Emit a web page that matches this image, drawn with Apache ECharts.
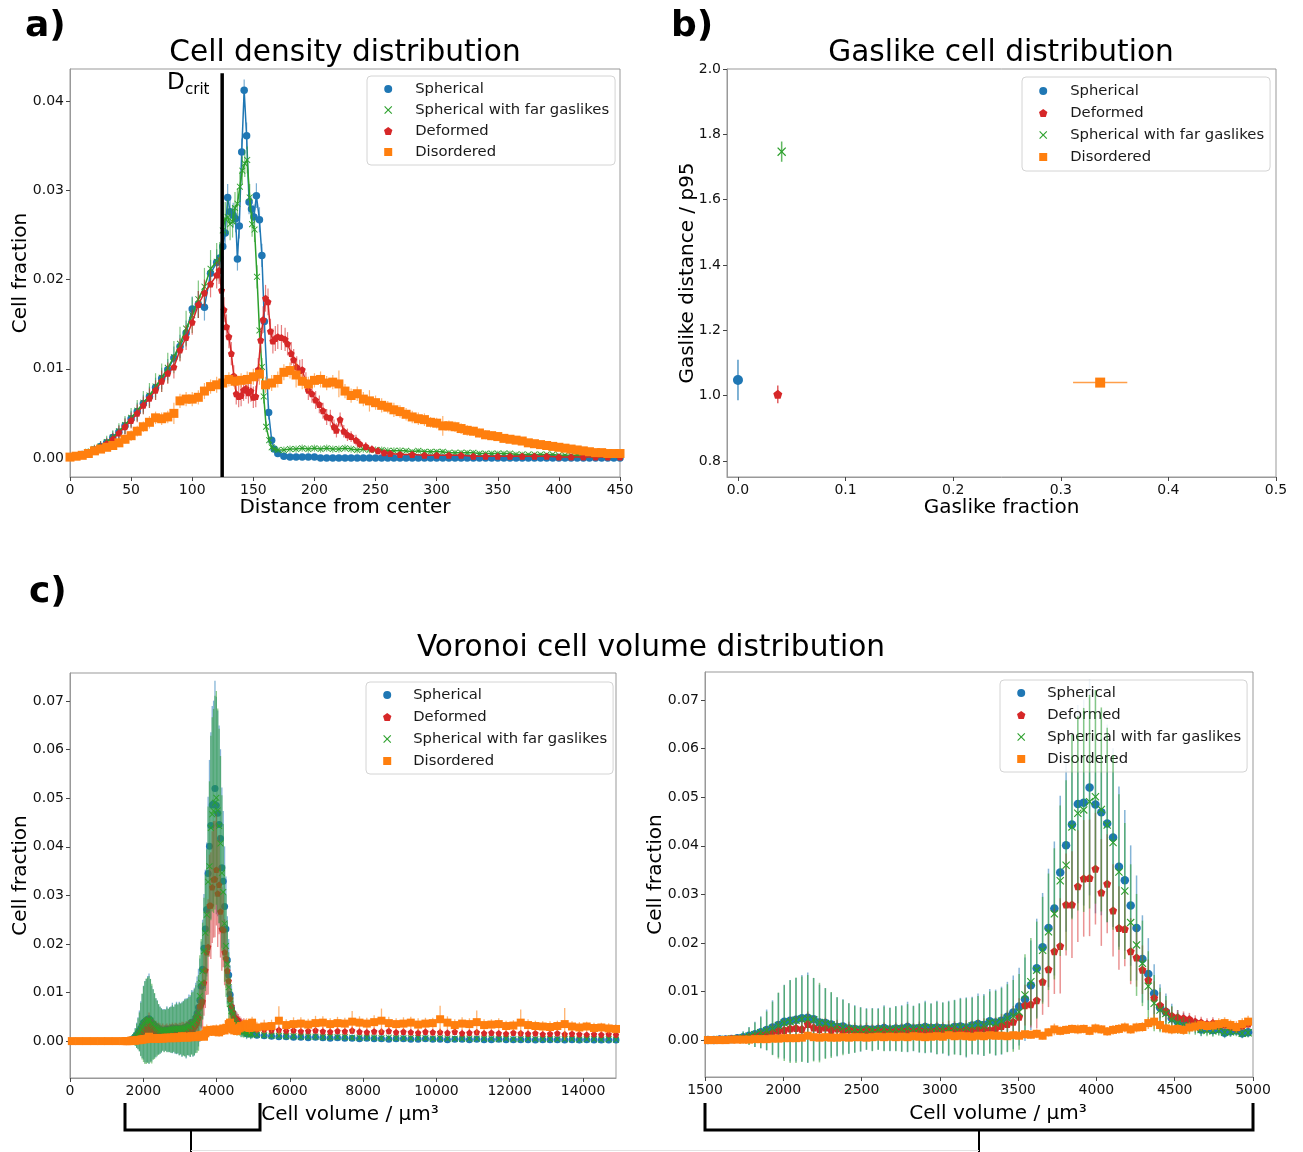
<!DOCTYPE html>
<html><head><meta charset="utf-8">
<script src="https://cdn.jsdelivr.net/npm/echarts@6/dist/echarts.min.js"></script>
<style>html,body{margin:0;padding:0;background:#fff}#c{width:1303px;height:1152px}</style>
</head><body><div id="c"></div>
<script>
// ---------------- Panel a: Cell density distribution ----------------
const aXTicks = [0,50,100,150,200,250,300,350,400,450];
const aYTicks = [0,0.01,0.02,0.03,0.04];
const dCrit = 124.5, dCritTop = 0.0431;
const aRiseX = [0,5,10,15,20,25,30,35,40,45,50,55,60,65,70,75,80,85,90,95,100,105,110,115,120];
const aTailX = [175,180,185,190,195,200,205,210,215,220,225,230,235,240,245,250,255,260,265,270,275,280,285,290,295,300,305,310,315,320,325,330,335,340,345,350,355,360,365,370,375,380,385,390,395,400,405,410,415,420,425,430,435,440,445,450];
// Spherical
const aSphPeakX = [122.5,125,127,129,131,133.5,135.5,137,138.5,140.5,142.5,144.5,146.5,148.5,150.5,152.5,155,157,159,162.5,165,167,170];
const aSphY = [0.0001,0.0002,0.0004,0.0006,0.0009,0.0013,0.0017,0.0023,0.0029,0.0036,0.0044,0.0052,0.0061,0.0069,0.0079,0.0089,0.0099,0.0112,0.0125,0.014,0.0167,0.0172,0.0169,0.0207,0.0219,
  0.0224,0.0237,0.0252,0.0292,0.0276,0.0272,0.0268,0.0223,0.026,0.0343,0.0412,0.0361,0.0287,0.0279,0.027,0.0294,0.0267,0.0227,0.0153,0.0051,0.002,0.001,0.0005,
  0.0002,0.0001,0.0001,0.0001,0.0001,0.0001,0,0,0,0,0,0,0,0,0,0,0,0,0,0,0,0,0,0,0,0,0,0,0,0,0,0,0,0,0,0,0,0,0,0,0,0,0,0,0,0,0,0,0,0,0,0,0,0,0,0];
const aSphE = [0.0001,0.0002,0.0003,0.0004,0.0005,0.0006,0.0006,0.0007,0.0008,0.0009,0.0009,0.001,0.001,0.0011,0.0011,0.0012,0.0012,0.0013,0.0013,0.0014,0.0014,0.0015,0.0015,0.0015,0.0015,
  0.0015,0.0015,0.0014,0.0015,0.0015,0.0014,0.0015,0.0013,0.0014,0.0015,0.0012,0.0015,0.0014,0.0013,0.0014,0.0014,0.0014,0.0013,0.0012,0.0008,0.0004,0.0002,0.0001,
  0.0001,0.0001,0.0001,0.0001,0.0001,0.0001,0.0001,0.0001,0.0001,0.0001,0.0001,0.0001,0.0001,0.0001,0.0001,0.0001,0.0001,0.0001,0.0001,0.0001,0.0001,0.0001,0.0001,0.0001,0.0001,0.0001,0.0001,0.0001,0.0001,0.0001,0.0001,0.0001,0.0001,0.0001,0.0001,0.0001,0.0001,0.0001,0.0001,0.0001,0.0001,0.0001,0.0001,0.0001,0.0001,0.0001,0.0001,0.0001,0.0001,0.0001,0.0001,0.0001,0.0001,0.0001,0.0001,0.0001];
// Spherical with far gaslikes
const aFarPeakX = [122.5,125,127,129,131,133,135,137,139,141,143,145,147,149,151,153,155,157,158.5,160.5,163,165,167,170];
const aFarY = [0.0001,0.0002,0.0004,0.0007,0.001,0.0013,0.0018,0.0023,0.003,0.0037,0.0045,0.0053,0.0062,0.007,0.008,0.009,0.0101,0.0113,0.0128,0.0145,0.016,0.0178,0.0192,0.0212,0.022,
  0.0222,0.0255,0.0268,0.027,0.0262,0.0265,0.028,0.0285,0.0304,0.0322,0.033,0.0334,0.0292,0.0262,0.0256,0.0203,0.0143,0.0102,0.0069,0.0035,0.002,0.0012,0.001,0.0009,
  0.0009,0.001,0.001,0.0011,0.001,0.0011,0.001,0.0011,0.001,0.001,
  0.0011,0.001,0.0009,0.001,0.0009,0.0009,0.0009,0.0008,0.0008,0.0008,
  0.0008,0.0007,0.0008,0.0007,0.0007,0.0007,0.0007,0.0006,0.0006,0.0006,
  0.0006,0.0006,0.0005,0.0005,0.0005,0.0005,0.0005,0.0005,0.0004,0.0004,
  0.0004,0.0004,0.0004,0.0004,0.0004,0.0003,0.0003,0.0003,0.0003,0.0003,
  0.0003,0.0003,0.0003,0.0003,0.0003,0.0003];
const aFarE = [0.0001,0.0002,0.0003,0.0004,0.0005,0.0006,0.0007,0.0008,0.0009,0.001,0.0011,0.0012,0.0013,0.0014,0.0015,0.0016,0.0017,0.0018,0.0019,0.002,0.002,0.0021,0.0021,0.0021,0.0021,
  0.002,0.002,0.0019,0.0019,0.0018,0.0018,0.0018,0.0017,0.0017,0.0016,0.0015,0.0015,0.0015,0.0014,0.0014,0.0013,0.0012,0.001,0.0008,0.0006,0.0004,0.0003,0.0003,0.0003,
  0.0004,0.0004,0.0004,0.0004,0.0004,0.0004,0.0004,0.0004,0.0004,0.0004,0.0004,0.0004,0.0004,0.0004,0.0004,0.0004,0.0004,0.0004,0.0004,0.0004,
  0.0003,0.0003,0.0003,0.0003,0.0003,0.0003,0.0003,0.0003,0.0003,0.0003,0.0003,0.0003,0.0003,0.0003,0.0003,0.0003,0.0003,0.0003,0.0003,0.0003,
  0.0002,0.0002,0.0002,0.0002,0.0002,0.0002,0.0002,0.0002,0.0002,0.0002,0.0002,0.0002,0.0002,0.0002,0.0002,0.0002];
// Deformed
const aDefPeakX = [122,124,126,128,130,132,134,136,138,140,142,144,146,148,150,152,154,156,158,160,162,164,166,168,170,
  173,176,178,181,183,185.5,188,190,193,195,198,201,204,207,210,213,216,218,221,224,227,230,234,237,242,247,252,257,262];
const aDefTailX = [270,280,290,300,310,320,330,340,350,360,370,380,390,400,410,420,430,440,450];
const aDefY = [0.0001,0.0002,0.0004,0.0006,0.0009,0.0012,0.0016,0.0021,0.0028,0.0035,0.0042,0.005,0.0059,0.0067,0.0076,0.0086,0.0095,0.0102,0.0121,0.0135,0.0152,0.0172,0.0185,0.0195,0.0205,
  0.021,0.0188,0.0166,0.0147,0.0136,0.0117,0.0092,0.0072,0.0069,0.007,0.0076,0.0078,0.0073,0.0075,0.0068,0.0069,0.0099,0.0132,0.0155,0.0179,0.0175,0.0142,0.0131,0.0134,0.0136,
  0.0135,0.0133,0.0128,0.0117,0.011,0.0102,0.0098,0.0099,0.0085,0.0076,0.0072,0.0065,0.006,0.0053,0.0046,0.0045,0.0035,0.0031,0.0043,0.003,0.0026,0.0024,0.002,0.0016,0.0013,0.001,0.0008,0.0006,0.0005,
  0.0004,0.0004,0.0003,0.0003,0.0003,0.0003,0.0002,0.0002,0.0002,0.0002,0.0002,0.0002,0.0002,0.0001,0.0001,0.0001,0.0001,0.0001,0.0001];
const aDefE = [0.0001,0.0002,0.0003,0.0004,0.0005,0.0006,0.0006,0.0007,0.0008,0.0009,0.0009,0.001,0.001,0.0011,0.0011,0.0012,0.0012,0.0013,0.0013,0.0014,0.0014,0.0015,0.0015,0.0015,0.0015,
  0.0015,0.0015,0.0014,0.0014,0.0013,0.0013,0.0012,0.0012,0.0012,0.0012,0.0012,0.0012,0.0012,0.0012,0.0012,0.0012,0.0013,0.0014,0.0015,0.0015,0.0015,0.0014,0.0014,0.0014,0.0014,
  0.0014,0.0013,0.0013,0.0013,0.0012,0.0012,0.0012,0.0012,0.0011,0.0011,0.001,0.001,0.001,0.0009,0.0009,0.0009,0.0008,0.0008,0.0008,0.0007,0.0007,0.0006,0.0006,0.0005,0.0005,0.0004,0.0004,0.0003,0.0003,
  0.0002,0.0002,0.0002,0.0002,0.0002,0.0002,0.0002,0.0001,0.0001,0.0001,0.0001,0.0001,0.0001,0.0001,0.0001,0.0001,0.0001,0.0001,0.0001];
// Disordered
const aDisX = [0,5,10,15,20,25,30,35,40,45,50,55,60,65,70,75,80,85,90,95,100,105,110,115,120,125,130,135,140,145,150,155,160,165,170,175,180,185,190,195,200,205,210,215,220,225,230,235,240,245,250,255,260,265,270,275,280,285,290,295,300,305,310,315,320,325,330,335,340,345,350,355,360,365,370,375,380,385,390,395,400,405,410,415,420,425,430,435,440,445,450];
const aDisY = [0.0001,0.0002,0.0003,0.0005,0.0008,0.001,0.0012,0.0014,0.0017,0.0021,
  0.0025,0.003,0.0035,0.004,0.0045,0.0044,0.0046,0.005,0.0064,0.0066,
  0.0066,0.0068,0.0075,0.008,0.0082,0.0084,0.0088,0.0086,0.0087,0.0088,
  0.0091,0.0094,0.0082,0.0084,0.0088,0.0096,0.0098,0.0093,0.0086,0.0083,
  0.0087,0.0088,0.0084,0.0085,0.0083,0.0075,0.007,0.0072,0.0066,0.0064,
  0.0062,0.0059,0.0057,0.0054,0.0052,0.0049,0.0046,0.0044,0.0043,0.004,
  0.0039,0.0036,0.0036,0.0035,0.0033,0.0031,0.003,0.0028,0.0026,0.0025,
  0.0024,0.0022,0.0021,0.002,0.0019,0.0017,0.0016,0.0015,0.0014,0.0013,
  0.0012,0.0011,0.001,0.0009,0.0008,0.0007,0.0006,0.0006,0.0005,0.0005,0.0005];
const aDisE = [0.0001,0.0002,0.0002,0.0003,0.0003,0.0004,0.0004,0.0005,0.0005,0.0005,
  0.0006,0.0006,0.0006,0.0007,0.0007,0.0007,0.0007,0.0012,0.0008,0.0008,
  0.0008,0.0008,0.0009,0.0008,0.0009,0.0009,0.0008,0.0009,0.0008,0.0009,
  0.0009,0.0012,0.0009,0.0009,0.0009,0.0009,0.0009,0.0014,0.0009,0.0008,
  0.0008,0.0009,0.0008,0.0008,0.0015,0.0008,0.0008,0.0008,0.0008,0.0012,
  0.0008,0.0008,0.0007,0.0008,0.0007,0.0007,0.0007,0.0007,0.0007,0.0006,
  0.0006,0.0011,0.0006,0.0006,0.0006,0.0006,0.0005,0.0005,0.0005,0.0005,
  0.0005,0.0005,0.0004,0.0004,0.0004,0.0004,0.0004,0.0004,0.0003,0.0003,
  0.0003,0.0003,0.0003,0.0003,0.0003,0.0002,0.0002,0.0002,0.0002,0.0002,0.0002];

// ---------------- Panel b: Gaslike cell distribution ----------------
const bXTicks = [0,0.1,0.2,0.3,0.4,0.5];
const bYTicks = [0.8,1.0,1.2,1.4,1.6,1.8,2.0];
const bNames = ['Spherical','Deformed','Spherical with far gaslikes','Disordered'];
const bFrac = [0.0, 0.037, 0.0406, 0.3366];
const bFracErr = [0, 0, 0, 0.0252];
const bDist = [1.048, 1.004, 1.747, 1.040];
const bDistErr = [0.062, 0.027, 0.031, 0.01];

// ---------------- Panel c: Voronoi cell volume distribution ----------------
const cLXTicks = [0,2000,4000,6000,8000,10000,12000,14000];
const cRXTicks = [1500,2000,2500,3000,3500,4000,4500,5000];
const cYTicks = [0,0.01,0.02,0.03,0.04,0.05,0.06,0.07];
const cBinStart = 1518.75, cBinWidth = 37.5;     // bins of the 1500-5000 window
const cTailStart = 5100, cTailStep = 200;        // coarser sampling above 5000
const cHeadStart = 50, cHeadStep = 200;          // below 1500 (Disordered only visible)
const cSphY = [0,0,0.0001,0.0001,0.0002,0.0004,0.0006,0.0009,0.0012,0.0016,
  0.0021,0.0026,0.0031,0.0038,0.004,0.0042,0.0045,0.0046,0.0043,0.0036,
  0.0035,0.0032,0.0027,0.0028,0.0024,0.0023,0.0022,0.0023,0.0022,0.0023,
  0.0025,0.0022,0.0024,0.0024,0.0027,0.0024,0.0025,0.0027,0.0025,0.0026,
  0.0025,0.0024,0.0027,0.0028,0.0026,0.003,0.0033,0.0031,0.0039,0.0036,
  0.004,0.0048,0.0057,0.0069,0.0084,0.0113,0.0148,0.0191,0.0231,0.0271,
  0.0345,0.0401,0.0444,0.0486,0.0489,0.052,0.0485,0.0469,0.0446,0.0417,
  0.0357,0.0329,0.0277,0.0231,0.0167,0.0136,0.0096,0.0067,0.0058,0.0045,
  0.0038,0.0036,0.0034,0.003,0.0022,0.0024,0.0021,0.0023,0.0015,0.0018,
  0.002,0.0014,0.0016];
const cSphE = [0.0001,0.0001,0.0002,0.0003,0.0005,0.0008,0.0012,0.0018,0.0026,0.0033,
  0.0042,0.0056,0.0066,0.0076,0.0084,0.0086,0.0089,0.0093,0.0085,0.0078,
  0.0072,0.0066,0.0061,0.0056,0.0052,0.0049,0.0046,0.0043,0.0044,0.0043,
  0.0047,0.0045,0.0046,0.0048,0.0052,0.0047,0.0051,0.0054,0.0051,0.0055,
  0.0053,0.0057,0.0056,0.0059,0.0062,0.0059,0.0063,0.0064,0.0066,0.0068,
  0.007,0.0072,0.0076,0.008,0.0086,0.0092,0.0102,0.0112,0.0122,0.0138,
  0.0158,0.0178,0.0192,0.0204,0.0212,0.0222,0.0224,0.0212,0.0204,0.0184,
  0.0165,0.0145,0.0124,0.0108,0.009,0.0074,0.006,0.0048,0.0038,0.003,
  0.0024,0.002,0.0017,0.0016,0.0014,0.0013,0.0012,0.0012,0.0011,0.0011,
  0.001,0.001,0.001];
const cDefY = [0,0,0.0001,0.0001,0.0002,0.0003,0.0004,0.0006,0.0008,0.0011,
  0.0013,0.0016,0.0019,0.0021,0.0024,0.0025,0.0023,0.0033,0.0026,0.0023,
  0.0026,0.0021,0.0024,0.0019,0.0022,0.002,0.0018,0.0021,0.0018,0.0019,
  0.002,0.0018,0.002,0.0019,0.0021,0.0019,0.0021,0.002,0.0019,0.0021,
  0.002,0.0022,0.0021,0.0019,0.0022,0.0021,0.0023,0.0024,0.0021,0.0024,
  0.0029,0.0033,0.0038,0.0048,0.0072,0.0074,0.0082,0.012,0.0146,0.0183,
  0.0194,0.0279,0.0279,0.0317,0.0333,0.0334,0.0353,0.0304,0.0322,0.0267,
  0.0231,0.0229,0.0183,0.017,0.0145,0.0124,0.0087,0.0072,0.006,0.005,
  0.0047,0.0045,0.0043,0.0038,0.0036,0.0033,0.0035,0.003,0.0032,0.0028,
  0.0026,0.003,0.0034];
const cDefE = [0.0001,0.0001,0.0001,0.0002,0.0003,0.0004,0.0006,0.0008,0.001,0.0012,
  0.0015,0.0018,0.002,0.0022,0.0024,0.0025,0.0026,0.0026,0.0024,0.0022,
  0.002,0.0019,0.0018,0.0017,0.0016,0.0016,0.0015,0.0015,0.0015,0.0015,
  0.0016,0.0015,0.0016,0.0016,0.0017,0.0016,0.0017,0.0017,0.0016,0.0017,
  0.0017,0.0018,0.0018,0.0018,0.0019,0.0019,0.002,0.0021,0.0021,0.0023,
  0.0025,0.0028,0.0032,0.0038,0.0042,0.0048,0.0058,0.0068,0.0078,0.0088,
  0.0098,0.0105,0.011,0.0115,0.012,0.012,0.0115,0.011,0.0102,0.0095,
  0.0086,0.0077,0.0068,0.006,0.005,0.0042,0.0034,0.0027,0.0022,0.0018,
  0.0015,0.0014,0.0013,0.0013,0.0012,0.0012,0.0012,0.0011,0.0011,0.0011,
  0.001,0.001,0.001];
const cFarY = [0,0,0.0001,0.0001,0.0002,0.0003,0.0005,0.0008,0.0011,0.0015,
  0.0019,0.0024,0.003,0.0035,0.0038,0.0041,0.0043,0.0044,0.0042,0.0036,
  0.0034,0.0031,0.0028,0.0026,0.0024,0.0022,0.0022,0.0022,0.0021,0.0022,
  0.0023,0.0022,0.0023,0.0023,0.0025,0.0024,0.0025,0.0026,0.0025,0.0025,
  0.0025,0.0024,0.0026,0.0027,0.0026,0.0029,0.0031,0.003,0.0036,0.0035,
  0.0039,0.0045,0.005,0.0058,0.0093,0.012,0.0144,0.0185,0.0223,0.026,
  0.0328,0.036,0.0439,0.0467,0.0474,0.0491,0.0501,0.0475,0.0443,0.0407,
  0.0346,0.0307,0.0242,0.0196,0.0158,0.0111,0.0076,0.0062,0.0055,0.0042,
  0.0035,0.003,0.0028,0.0026,0.0022,0.002,0.0019,0.002,0.0016,0.0017,
  0.0018,0.0014,0.0015];
const cFarE = [0.0001,0.0001,0.0002,0.0003,0.0005,0.0008,0.0012,0.0018,0.0025,0.0032,
  0.004,0.0055,0.0068,0.0078,0.0085,0.0088,0.0088,0.009,0.0086,0.0082,
  0.0073,0.0068,0.006,0.0057,0.0052,0.0048,0.0045,0.0042,0.0044,0.0042,
  0.0046,0.0044,0.0046,0.0047,0.0049,0.0046,0.005,0.0052,0.005,0.0054,
  0.0052,0.0055,0.0056,0.0058,0.006,0.0058,0.006,0.0062,0.0064,0.0066,
  0.0068,0.007,0.0074,0.0078,0.0084,0.009,0.01,0.011,0.012,0.0135,
  0.0155,0.0175,0.019,0.02,0.021,0.022,0.022,0.021,0.02,0.018,
  0.016,0.014,0.012,0.0105,0.0088,0.0072,0.0058,0.0046,0.0036,0.0028,
  0.0022,0.0018,0.0016,0.0015,0.0013,0.0012,0.0012,0.0011,0.001,0.001,
  0.001,0.0009,0.0009];
const cDisY = [0,0,0,0,0.0001,0.0001,0.0001,0.0001,0.0002,0.0002,
  0.0002,0.0003,0.0003,0.0004,0.0004,0.0004,0.0005,0.0009,0.0006,0.0005,
  0.0006,0.0005,0.0005,0.0006,0.0005,0.0006,0.0006,0.0005,0.0006,0.0007,
  0.0006,0.0007,0.0006,0.0007,0.0006,0.0008,0.0007,0.0006,0.0007,0.0008,
  0.0007,0.001,0.0008,0.0009,0.0008,0.0007,0.0009,0.0008,0.001,0.0009,
  0.0009,0.0008,0.001,0.0009,0.0012,0.0011,0.0013,0.0009,0.0016,0.0022,
  0.0019,0.0021,0.0023,0.0022,0.0023,0.0019,0.0024,0.0022,0.0018,0.0021,
  0.0023,0.0026,0.0022,0.0026,0.0027,0.0035,0.0038,0.0031,0.0024,0.0022,
  0.0023,0.0021,0.0026,0.0028,0.0031,0.0029,0.003,0.0033,0.0035,0.0031,
  0.0027,0.0033,0.0038];
const cDisE = [0.0001,0.0001,0.0001,0.0001,0.0001,0.0001,0.0001,0.0002,0.0002,0.0002,
  0.0002,0.0002,0.0003,0.0003,0.0003,0.0003,0.0004,0.0006,0.0004,0.0004,
  0.0004,0.0004,0.0004,0.0005,0.0004,0.0004,0.0005,0.0004,0.0005,0.0005,
  0.0005,0.0005,0.0005,0.0005,0.0005,0.0006,0.0005,0.0005,0.0006,0.0006,
  0.0006,0.0007,0.0006,0.0006,0.0006,0.0006,0.0007,0.0006,0.0007,0.0007,
  0.0007,0.0007,0.0007,0.0008,0.0008,0.0008,0.0009,0.0008,0.0009,0.0012,
  0.0009,0.0009,0.0009,0.001,0.0009,0.0009,0.001,0.0009,0.0009,0.001,
  0.001,0.001,0.0009,0.001,0.001,0.0012,0.0015,0.0011,0.001,0.001,
  0.001,0.001,0.0011,0.0011,0.0011,0.0011,0.0012,0.0012,0.0012,0.0011,
  0.0012,0.0012,0.0012];
// tail (5000-15000)
const tSphY = [0.0012,0.0011,0.001,0.0009,0.0009,0.0008,0.0008,0.0007,0.0008,0.0007,
  0.0006,0.0007,0.0006,0.0006,0.0005,0.0006,0.0005,0.0005,0.0004,0.0005,
  0.0005,0.0004,0.0004,0.0005,0.0004,0.0004,0.0003,0.0004,0.0004,0.0003,
  0.0004,0.0003,0.0003,0.0004,0.0003,0.0003,0.0003,0.0003,0.0002,0.0003,
  0.0003,0.0003,0.0002,0.0003,0.0002,0.0003,0.0002,0.0002,0.0002,0.0002];
const tSphE = [0.0006,0.0006,0.0006,0.0006,0.0006,0.0006,0.0006,0.0006,0.0006,0.0006,
  0.0005,0.0005,0.0005,0.0005,0.0005,0.0005,0.0005,0.0005,0.0005,0.0005,
  0.0004,0.0004,0.0004,0.0004,0.0004,0.0004,0.0004,0.0004,0.0004,0.0004,
  0.0004,0.0004,0.0004,0.0004,0.0004,0.0003,0.0003,0.0003,0.0003,0.0003,
  0.0003,0.0003,0.0003,0.0003,0.0003,0.0003,0.0003,0.0003,0.0003,0.0003];
const tDefY = [0.0025,0.0024,0.0022,0.0023,0.0021,0.0022,0.002,0.0021,0.0022,0.002,
  0.0019,0.0021,0.002,0.0022,0.0019,0.0018,0.002,0.0019,0.0021,0.0018,
  0.0019,0.0018,0.0017,0.0019,0.0018,0.0018,0.0017,0.0019,0.0016,0.0017,
  0.0018,0.0016,0.0017,0.0016,0.0015,0.0017,0.0016,0.0015,0.0016,0.0014,
  0.0015,0.0016,0.0014,0.0015,0.0014,0.0013,0.0014,0.0013,0.0014,0.0013];
const tDefE = [0.0009,0.0009,0.0009,0.0009,0.0009,0.0009,0.0009,0.0009,0.0009,0.0009,
  0.0008,0.0008,0.0008,0.0008,0.0008,0.0008,0.0008,0.0008,0.0008,0.0008,
  0.0008,0.0008,0.0008,0.0008,0.0008,0.0008,0.0008,0.0008,0.0008,0.0008,
  0.0007,0.0007,0.0007,0.0007,0.0007,0.0007,0.0007,0.0007,0.0007,0.0007,
  0.0007,0.0007,0.0007,0.0007,0.0007,0.0007,0.0007,0.0007,0.0007,0.0007];
const tFarY = [0.0013,0.0012,0.0011,0.0011,0.001,0.001,0.0009,0.0009,0.0009,0.0008,
  0.0008,0.0008,0.0008,0.0007,0.0007,0.0007,0.0007,0.0006,0.0007,0.0006,
  0.0006,0.0006,0.0006,0.0006,0.0005,0.0006,0.0005,0.0005,0.0005,0.0005,
  0.0005,0.0005,0.0005,0.0004,0.0005,0.0004,0.0004,0.0005,0.0004,0.0004,
  0.0004,0.0004,0.0004,0.0004,0.0003,0.0004,0.0004,0.0003,0.0004,0.0003];
const tFarE = [0.0007,0.0007,0.0007,0.0007,0.0007,0.0007,0.0007,0.0007,0.0007,0.0007,
  0.0006,0.0006,0.0006,0.0006,0.0006,0.0006,0.0006,0.0006,0.0006,0.0006,
  0.0005,0.0005,0.0005,0.0005,0.0005,0.0005,0.0005,0.0005,0.0005,0.0005,
  0.0005,0.0005,0.0005,0.0005,0.0005,0.0004,0.0004,0.0004,0.0004,0.0004,
  0.0004,0.0004,0.0004,0.0004,0.0004,0.0004,0.0004,0.0004,0.0004,0.0004];
const tDisY = [0.0028,0.003,0.0031,0.0042,0.0033,0.0035,0.0036,0.0034,0.0037,0.0038,
  0.0035,0.0037,0.0036,0.004,0.0038,0.0036,0.0039,0.0042,0.0037,0.0035,
  0.0036,0.0038,0.0034,0.0036,0.0037,0.0045,0.0038,0.0033,0.0036,0.0035,
  0.0039,0.0033,0.0034,0.0035,0.0031,0.0032,0.0038,0.0033,0.0031,0.003,
  0.0029,0.0031,0.0035,0.003,0.0028,0.003,0.0027,0.0028,0.0026,0.0025];
const tDisE = [0.0012,0.0014,0.0013,0.003,0.0012,0.0014,0.0013,0.0012,0.0015,0.0013,
  0.0012,0.0013,0.0012,0.0022,0.0013,0.0012,0.0014,0.0025,0.0013,0.0012,
  0.0013,0.0012,0.0013,0.0012,0.0011,0.0028,0.0013,0.0012,0.0013,0.0012,
  0.0024,0.0012,0.0011,0.0012,0.0011,0.0011,0.0027,0.0012,0.0011,0.0011,
  0.0012,0.0011,0.0033,0.0011,0.0011,0.001,0.0011,0.001,0.0011,0.001];
const hDisY = [0,0,0,0,0,0,0,0];
const hDisE = [0.0001,0.0001,0.0001,0.0001,0.0001,0.0001,0.0001,0.0001];

// ---------------- build ----------------
const C_BLUE='#1f77b4', C_ORANGE='#ff7f0e', C_GREEN='#2ca02c', C_RED='#d62728';
const SYM_X='path://M0,0.1L0.1,0L0.5,0.4L0.9,0L1,0.1L0.6,0.5L1,0.9L0.9,1L0.5,0.6L0.1,1L0,0.9L0.4,0.5Z';
const SYM_PENT='path://M0.5,0L1,0.363L0.809,0.951L0.191,0.951L0,0.363Z';
const SYM_SQ='path://M0,0L1,0L1,1L0,1Z';
const FONT='DejaVu Sans';

const aSphX = aRiseX.concat(aSphPeakX, aTailX);
const aFarX = aRiseX.concat(aFarPeakX, aTailX);
const aDefX = aRiseX.concat(aDefPeakX, aDefTailX);
const cCoreX = cSphY.map((_, i) => cBinStart + cBinWidth * i);
const cTailX = tSphY.map((_, i) => cTailStart + cTailStep * i);
const cHeadX = hDisY.map((_, i) => cHeadStart + cHeadStep * i);

const series = [];
function addErr(gi, xs, ys, es, color, width, opacity, z, xes) {
  const data = xs.map((x, i) => xes ? [x, ys[i], es[i], xes[i]] : [x, ys[i], es[i]]);
  series.push({
    type: 'custom', name: 'errbar', xAxisIndex: gi, yAxisIndex: gi, z, silent: true, clip: true,
    animation: false, data, encode: { x: 0, y: 1 },
    renderItem: (p, api) => {
      const x = api.value(0), y = api.value(1), e = api.value(2);
      const ch = [];
      if (isFinite(e) && e > 0) {
        const a = api.coord([x, y - e]), b = api.coord([x, y + e]);
        ch.push({ type: 'line', shape: { x1: a[0], y1: a[1], x2: b[0], y2: b[1] }, style: { stroke: color, lineWidth: width, opacity } });
      }
      if (xes) {
        const xe = api.value(3);
        if (isFinite(xe) && xe > 0) {
          const a = api.coord([x - xe, y]), b = api.coord([x + xe, y]);
          ch.push({ type: 'line', shape: { x1: a[0], y1: a[1], x2: b[0], y2: b[1] }, style: { stroke: color, lineWidth: width, opacity } });
        }
      }
      return { type: 'group', children: ch };
    }
  });
}
function addPts(gi, name, xs, ys, symbol, size, color, z, line) {
  const s = {
    type: line ? 'line' : 'scatter', name, xAxisIndex: gi, yAxisIndex: gi, z, silent: true, animation: false,
    data: xs.map((x, i) => [x, ys[i]]), symbol, symbolSize: size,
    itemStyle: { color, opacity: 1, borderWidth: 0 }, emphasis: { disabled: true }
  };
  if (line) Object.assign(s, { showSymbol: true, showAllSymbol: true, lineStyle: { color, width: 1.5 } });
  series.push(s);
}

// Panel a (grid 0)
addErr(0, aSphX, aSphY, aSphE, C_BLUE, 1.2, 0.6, 2);
addPts(0, 'Spherical', aSphX, aSphY, 'circle', 7.5, C_BLUE, 3, true);
addErr(0, aFarX, aFarY, aFarE, C_GREEN, 1.2, 0.6, 4);
addPts(0, 'Spherical with far gaslikes', aFarX, aFarY, SYM_X, 6.5, C_GREEN, 5, true);
addErr(0, aDefX, aDefY, aDefE, C_RED, 1.2, 0.6, 6);
addPts(0, 'Deformed', aDefX, aDefY, SYM_PENT, 7, C_RED, 7, true);
addErr(0, aDisX, aDisY, aDisE, C_ORANGE, 1.2, 0.6, 8);
addPts(0, 'Disordered', aDisX, aDisY, 'rect', 9, C_ORANGE, 9, false);
series.push({ type: 'line', name: 'Dcrit', xAxisIndex: 0, yAxisIndex: 0, z: 12, silent: true, animation: false,
  data: [[dCrit, -0.00213], [dCrit, dCritTop]], symbol: 'none', lineStyle: { color: '#000', width: 3.5 } });

// Panel b (grid 1)
const bSym = ['circle', SYM_PENT, SYM_X, 'rect'];
const bCol = [C_BLUE, C_RED, C_GREEN, C_ORANGE];
const bSize = [10, 9, 9, 10];
bNames.forEach((n, i) => {
  addErr(1, [bFrac[i]], [bDist[i]], [bDistErr[i]], bCol[i], 1.5, 0.75, 2 + 2 * i, [bFracErr[i]]);
  addPts(1, n, [bFrac[i]], [bDist[i]], bSym[i], bSize[i], bCol[i], 3 + 2 * i, false);
});

// Panel c left (grid 2) and right (grid 3)
const cLSphX = cCoreX.concat(cTailX), cLSphY = cSphY.concat(tSphY), cLSphE = cSphE.concat(tSphE);
const cLDefY = cDefY.concat(tDefY), cLDefE = cDefE.concat(tDefE);
const cLFarY = cFarY.concat(tFarY), cLFarE = cFarE.concat(tFarE);
const cLDisX = cHeadX.concat(cCoreX, cTailX), cLDisY = hDisY.concat(cDisY, tDisY), cLDisE = hDisE.concat(cDisE, tDisE);

addErr(2, cLSphX, cLSphY, cLSphE, C_BLUE, 1.3, 0.55, 2);
addPts(2, 'Spherical', cLSphX, cLSphY, 'circle', 7, C_BLUE, 3, false);
addErr(2, cLSphX, cLDefY, cLDefE, C_RED, 1.3, 0.55, 4);
addPts(2, 'Deformed', cLSphX, cLDefY, SYM_PENT, 6.5, C_RED, 5, false);
addErr(2, cLSphX, cLFarY, cLFarE, C_GREEN, 1.3, 0.55, 6);
addPts(2, 'Spherical with far gaslikes', cLSphX, cLFarY, SYM_X, 6.5, C_GREEN, 7, false);
addErr(2, cLDisX, cLDisY, cLDisE, C_ORANGE, 1.3, 0.6, 8);
addPts(2, 'Disordered', cLDisX, cLDisY, 'rect', 8, C_ORANGE, 9, false);

addErr(3, cCoreX, cSphY, cSphE, C_BLUE, 1.5, 0.55, 2);
addPts(3, 'Spherical', cCoreX, cSphY, 'circle', 8.5, C_BLUE, 3, false);
addErr(3, cCoreX, cDefY, cDefE, C_RED, 1.5, 0.5, 4);
addPts(3, 'Deformed', cCoreX, cDefY, SYM_PENT, 8, C_RED, 5, false);
addErr(3, cCoreX, cFarY, cFarE, C_GREEN, 1.5, 0.55, 6);
addPts(3, 'Spherical with far gaslikes', cCoreX, cFarY, SYM_X, 8, C_GREEN, 7, false);
addErr(3, cCoreX, cDisY, cDisE, C_ORANGE, 1.5, 0.6, 8);
addPts(3, 'Disordered', cCoreX, cDisY, 'rect', 8, C_ORANGE, 9, false);

// axes helpers
function xAx(gi, min, max, ticks, fmt, name, nameGap, namePad) {
  return { gridIndex: gi, type: 'value', min, max, name, nameLocation: 'middle', nameGap, nameMoveOverlap: false,
    nameTextStyle: { fontSize: 20, color: '#000', fontFamily: FONT, padding: namePad || 0 },
    axisLine: { show: true, onZero: false, lineStyle: { color: '#999', width: 1 } },
    axisTick: { show: true, length: 4, inside: false, lineStyle: { color: '#444' }, customValues: ticks },
    axisLabel: { show: true, fontSize: 14, color: '#111', fontFamily: FONT, margin: 6, customValues: ticks, formatter: fmt },
    splitLine: { show: false } };
}
function yAx(gi, min, max, ticks, fmt, name, nameGap) {
  return { gridIndex: gi, type: 'value', min, max, name, nameLocation: 'middle', nameGap, nameMoveOverlap: false,
    nameTextStyle: { fontSize: 20, color: '#000', fontFamily: FONT },
    axisLine: { show: true, onZero: false, lineStyle: { color: '#999', width: 1 } },
    axisTick: { show: true, length: 4, inside: false, lineStyle: { color: '#444' }, customValues: ticks },
    axisLabel: { show: true, fontSize: 14, color: '#111', fontFamily: FONT, margin: 6, customValues: ticks, formatter: fmt },
    splitLine: { show: false } };
}
const f0 = v => String(Math.round(v));
const f1 = v => v.toFixed(1);
const f2 = v => v.toFixed(2);

const gridBase = { show: true, borderColor: '#999', borderWidth: 1, backgroundColor: 'transparent', containLabel: false, outerBoundsMode: 'none' };
const legendBase = { orient: 'vertical', itemWidth: 32, itemHeight: 8, selectedMode: false,
  backgroundColor: 'rgba(255,255,255,0.85)', borderColor: '#d4d4d4', borderWidth: 1, borderRadius: 4,
  itemStyle: { borderWidth: 0 } };
function legTxt(pad) { return { fontSize: 14.8, color: '#1a1a1a', fontFamily: FONT, lineHeight: 16, padding: [0, 0, 0, pad] }; }
const iconOf = { 'Spherical': 'circle', 'Deformed': SYM_PENT, 'Spherical with far gaslikes': SYM_X, 'Disordered': SYM_SQ };
const legData = names => names.map(n => ({ name: n, icon: iconOf[n] }));

const option = {
  animation: false,
  backgroundColor: '#fff',
  textStyle: { fontFamily: FONT },
  grid: [
    Object.assign({ left: 70, top: 69, width: 550, height: 408 }, gridBase),
    Object.assign({ left: 727, top: 69, width: 549, height: 408 }, gridBase),
    Object.assign({ left: 70, top: 673, width: 546, height: 405 }, gridBase),
    Object.assign({ left: 705, top: 672, width: 548, height: 405 }, gridBase)
  ],
  xAxis: [
    xAx(0, 0, 450, aXTicks, f0, 'Distance from center', 21),
    xAx(1, -0.0102, 0.5, bXTicks, f1, 'Gaslike fraction', 21),
    xAx(2, 0, 14900, cLXTicks, f0, 'Cell volume / μm³', 27, [0, 0, 0, 14]),
    xAx(3, 1500, 5000, cRXTicks, f0, 'Cell volume / μm³', 27, [0, 0, 0, 38])
  ],
  yAxis: [
    yAx(0, -0.00213, 0.04359, aYTicks, f2, 'Cell fraction', 39),
    yAx(1, 0.751, 2.0, bYTicks, f1, 'Gaslike distance / p95', 29),
    yAx(2, -0.0076, 0.0758, cYTicks, f2, 'Cell fraction', 39),
    yAx(3, -0.0076, 0.0758, cYTicks, f2, 'Cell fraction', 39)
  ],
  legend: [
    Object.assign({}, legendBase, { left: 367, top: 76, itemGap: 5, padding: [5, 6, 5, 17], textStyle: legTxt(6),
      data: legData(['Spherical', 'Spherical with far gaslikes', 'Deformed', 'Disordered']) }),
    Object.assign({}, legendBase, { left: 1022, top: 77, itemGap: 6, padding: [6, 6, 6, 17], textStyle: legTxt(6),
      data: legData(['Spherical', 'Deformed', 'Spherical with far gaslikes', 'Disordered']) }),
    Object.assign({}, legendBase, { left: 366, top: 682, itemGap: 6, padding: [5, 6, 5, 17], textStyle: legTxt(5),
      data: legData(['Spherical', 'Deformed', 'Spherical with far gaslikes', 'Disordered']) }),
    Object.assign({}, legendBase, { left: 1000, top: 680, itemGap: 6, padding: [5, 6, 5, 17], textStyle: legTxt(5),
      data: legData(['Spherical', 'Deformed', 'Spherical with far gaslikes', 'Disordered']) })
  ],
  graphic: [
    { type: 'text', x: 25, y: 27, style: { text: 'a)', fontSize: 36, fontWeight: 'bold', fontFamily: FONT, fill: '#000', align: 'left', verticalAlign: 'middle' } },
    { type: 'text', x: 671, y: 27, style: { text: 'b)', fontSize: 36, fontWeight: 'bold', fontFamily: FONT, fill: '#000', align: 'left', verticalAlign: 'middle' } },
    { type: 'text', x: 29, y: 593, style: { text: 'c)', fontSize: 36, fontWeight: 'bold', fontFamily: FONT, fill: '#000', align: 'left', verticalAlign: 'middle' } },
    { type: 'text', x: 345, y: 53, style: { text: 'Cell density distribution', fontSize: 29.6, fontFamily: FONT, fill: '#000', align: 'center', verticalAlign: 'middle' } },
    { type: 'text', x: 1001, y: 53, style: { text: 'Gaslike cell distribution', fontSize: 29.6, fontFamily: FONT, fill: '#000', align: 'center', verticalAlign: 'middle' } },
    { type: 'text', x: 651, y: 648, style: { text: 'Voronoi cell volume distribution', fontSize: 29.6, fontFamily: FONT, fill: '#000', align: 'center', verticalAlign: 'middle' } },
    { type: 'text', x: 167, y: 83, z: 50, style: { text: 'D', fontSize: 23, fontFamily: FONT, fill: '#000', align: 'left', verticalAlign: 'middle' } },
    { type: 'text', x: 185, y: 90, z: 50, style: { text: 'crit', fontSize: 15, fontFamily: FONT, fill: '#000', align: 'left', verticalAlign: 'middle' } },
    { type: 'polyline', shape: { points: [[125, 1103], [125, 1130], [260, 1130], [260, 1103]] }, style: { stroke: '#000', lineWidth: 3, fill: null } },
    { type: 'line', shape: { x1: 191, y1: 1130, x2: 191, y2: 1152 }, style: { stroke: '#000', lineWidth: 2 } },
    { type: 'polyline', shape: { points: [[705, 1103], [705, 1130], [1253, 1130], [1253, 1103]] }, style: { stroke: '#000', lineWidth: 3, fill: null } },
    { type: 'line', shape: { x1: 979, y1: 1130, x2: 979, y2: 1152 }, style: { stroke: '#000', lineWidth: 2 } },
    { type: 'line', shape: { x1: 191, y1: 1150.5, x2: 979, y2: 1150.5 }, style: { stroke: '#e2e2e2', lineWidth: 1 } }
  ],
  series
};
const chart = echarts.init(document.getElementById('c'), null, { renderer: 'canvas' });
chart.setOption(option);
</script></body></html>
